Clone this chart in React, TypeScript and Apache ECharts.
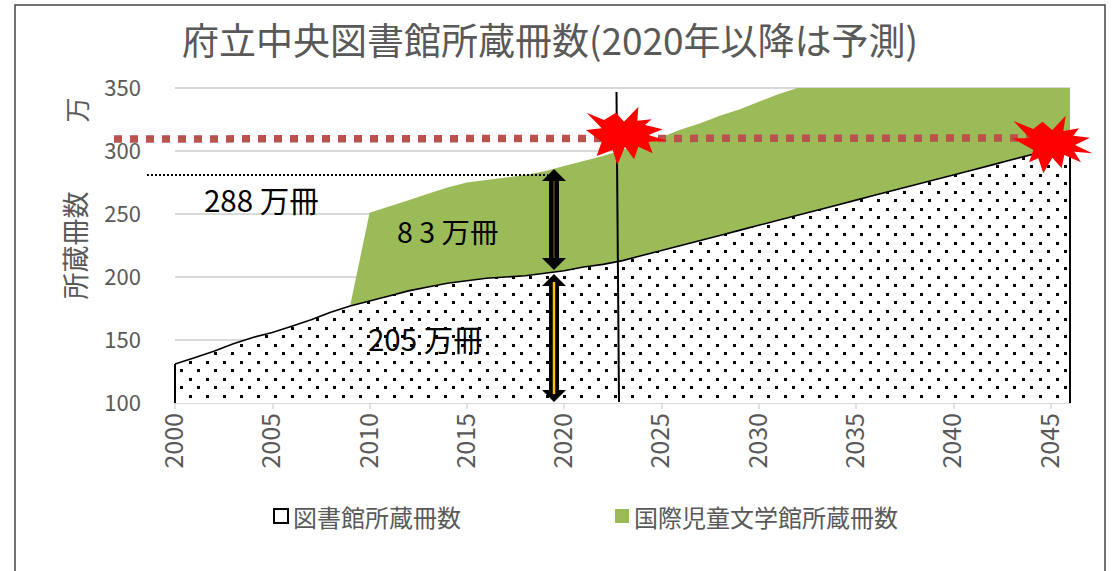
import React, { useEffect, useRef } from "react";
import * as echarts from "echarts";

const titleText = "府立中央図書館所蔵冊数(2020年以降は予測)";
const years = Array.from({ length: 47 }, (_, i) => String(2000 + i));
const libraryName = "図書館所蔵冊数";
const childrenName = "国際児童文学館所蔵冊数";
const libraryCounts = [
  131, 136, 141, 147, 152, 156, 161, 166, 172, 177, 181, 185, 189, 192, 195, 197, 199, 200, 201, 203, 205, 208, 210,
  213, 217, 221, 225, 229, 233, 237, 241, 245, 249, 253, 257, 261, 265, 269, 273, 277, 281, 285, 289, 293, 297, 301, 305,
];
const childrenCounts = [
  0, 0, 0, 0, 0, 0, 0, 0, 0, 0, 70, 71, 72, 74, 76, 78, 78, 79, 80, 81, 83, 84, 86, 88, 89, 90, 92, 93, 95, 96, 98, 100,
  101, 97, 93, 89, 85, 81, 77, 73, 69, 65, 61, 57, 53, 49, 45,
];

const FONT = '"Noto Sans CJK JP", "Noto Sans", sans-serif';
const GRAY = "#595959";

const burst1 = [[20,38],[72,60],[108,38],[132,65],[175,20],[172,62],[215,58],[195,75],[248,88],[205,105],[262,122],[205,125],[218,160],[175,140],[162,178],[135,140],[112,195],[98,150],[50,168],[65,125],[18,90],[65,85]];
const burst2 = [[25,48],[85,72],[112,50],[142,75],[182,32],[175,78],[222,70],[205,92],[255,98],[210,120],[262,145],[208,140],[228,172],[178,150],[170,190],[142,158],[115,205],[100,160],[72,172],[85,135],[22,100],[75,100]];
const toPts = (p: number[][], ox: number, oy: number) => p.map(([x, y]) => [x / 3 + ox, y / 3 + oy]);

const arrow = (x: number, y1: number, y2: number) => [
  [x, y1], [x + 12, y1 + 12], [x + 5, y1 + 12], [x + 5, y2 - 12], [x + 12, y2 - 12],
  [x, y2], [x - 12, y2 - 12], [x - 5, y2 - 12], [x - 5, y1 + 12], [x - 12, y1 + 12],
];

function dotPattern() {
  const c = document.createElement("canvas");
  c.width = 17;
  c.height = 17;
  const g = c.getContext("2d")!;
  g.fillStyle = "#fff";
  g.fillRect(0, 0, 17, 17);
  g.fillStyle = "#000";
  g.fillRect(2, 4, 3, 3);
  g.fillRect(10, 12, 3, 3);
  return { image: c, repeat: "repeat", imageWidth: 17, imageHeight: 17 };
}

const label = (text: string, x: number, y: number, size: number) => ({
  type: "text", x, y, z: 20,
  style: { text, fill: "#000", font: `${size}px ${FONT}`, textAlign: "left", textVerticalAlign: "middle" },
});

export default function App() {
  const ref = useRef<HTMLDivElement>(null);
  useEffect(() => {
    const chart = echarts.init(ref.current!, undefined, { renderer: "svg" });
    chart.setOption({
      animation: false,
      backgroundColor: "#fff",
      grid: { left: 175, right: 43, top: 88, bottom: 168 },
      legend: {
        left: 268, top: 499, itemGap: 154, itemWidth: 14, itemHeight: 14,
        textStyle: { color: GRAY, fontSize: 24, fontFamily: FONT },
        data: [
          { name: libraryName, icon: "rect", itemStyle: { color: "#fff", borderColor: "#000", borderWidth: 2 } },
          { name: childrenName, icon: "rect", itemStyle: { color: "#9BBB59" } },
        ],
      },
      xAxis: {
        type: "category", boundaryGap: false, data: years,
        axisLine: { lineStyle: { color: "#D9D9D9", width: 2 } },
        axisTick: { show: true, interval: 4, length: 6, lineStyle: { color: "#D9D9D9", width: 1.5 } },
        axisLabel: { interval: 4, rotate: 90, color: GRAY, fontSize: 25, fontFamily: FONT, margin: 10, hideOverlap: false, verticalAlign: "bottom", lineHeight: 6 },
      },
      yAxis: {
        type: "value", min: 100, max: 350, interval: 50,
        name: "所蔵冊数", nameLocation: "middle", nameGap: 87,
        nameTextStyle: { color: GRAY, fontSize: 27, fontFamily: FONT },
        axisLine: { show: false }, axisTick: { show: false },
        axisLabel: { color: GRAY, fontSize: 22, fontFamily: FONT, margin: 34, verticalAlign: "bottom", lineHeight: 4 },
        splitLine: { lineStyle: { color: "#D9D9D9", width: 2 } },
      },
      series: [
        {
          name: libraryName, type: "line", stack: "all", data: libraryCounts, showSymbol: false, z: 3,
          lineStyle: { color: "#000", width: 1.6 },
          itemStyle: { color: "#fff", borderColor: "#000" },
          areaStyle: { color: dotPattern(), opacity: 1 },
          markLine: {
            silent: true, symbol: "none", label: { show: false }, animation: false,
            lineStyle: { color: "#000", width: 2, type: "solid" },
            data: [
              [{ coord: [years[0], 100] }, { coord: [years[0], libraryCounts[0]] }],
              [{ coord: [years[46], 100] }, { coord: [years[46], libraryCounts[46]] }],
            ],
          },
        },
        {
          name: childrenName, type: "line", stack: "all", data: childrenCounts, showSymbol: false, z: 2,
          lineStyle: { width: 0 },
          itemStyle: { color: "#9BBB59" },
          areaStyle: { color: "#9BBB59", opacity: 1 },
        },
      ],
      graphic: [
        { type: "rect", z: 30, shape: { x: 15, y: 5, width: 1090, height: 600 }, style: { fill: "none", stroke: "#444", lineWidth: 1.5 } },
        { type: "text", x: 550, y: 39, z: 20, style: { text: titleText, fill: GRAY, font: `37px ${FONT}`, textAlign: "center", textVerticalAlign: "middle" } },
        { type: "text", x: 76, y: 110, z: 20, rotation: Math.PI / 2, style: { text: "万", fill: GRAY, font: `25px ${FONT}`, textAlign: "center", textVerticalAlign: "middle" } },
        { type: "line", z: 10, shape: { x1: 114, y1: 139, x2: 1040, y2: 138 }, style: { stroke: "#C0504D", lineWidth: 7.5, lineDash: [8, 8] } },
        { type: "line", z: 10, shape: { x1: 147, y1: 175, x2: 548, y2: 175 }, style: { stroke: "#000", lineWidth: 2, lineDash: [2, 2] } },
        { type: "line", z: 10, shape: { x1: 616.5, y1: 92, x2: 619, y2: 402 }, style: { stroke: "#000", lineWidth: 2 } },
        { type: "polygon", z: 11, shape: { points: arrow(554, 169, 270) }, style: { fill: "#000" } },
        { type: "line", z: 12, shape: { x1: 554, y1: 181, x2: 554, y2: 258 }, style: { stroke: "#8a6a10", lineWidth: 1 } },
        { type: "polygon", z: 11, shape: { points: arrow(554, 274, 402) }, style: { fill: "#000" } },
        { type: "line", z: 12, shape: { x1: 554, y1: 282, x2: 554, y2: 394 }, style: { stroke: "#FFC000", lineWidth: 2.5 } },
        { type: "polygon", z: 15, shape: { points: toPts(burst1, 580, 100) }, style: { fill: "#FF0000" } },
        { type: "polygon", z: 15, shape: { points: toPts(burst2, 1005, 105) }, style: { fill: "#FF0000" } },
        label("288 万冊", 204, 199, 29.5),
        label("8 3 万冊", 397, 230, 28.5),
        label("205 万冊", 368, 338, 29.5),
      ],
    });
    return () => chart.dispose();
  }, []);
  return <div ref={ref} style={{ position: "absolute", left: 0, top: 0, width: 1113, height: 571 }} />;
}
